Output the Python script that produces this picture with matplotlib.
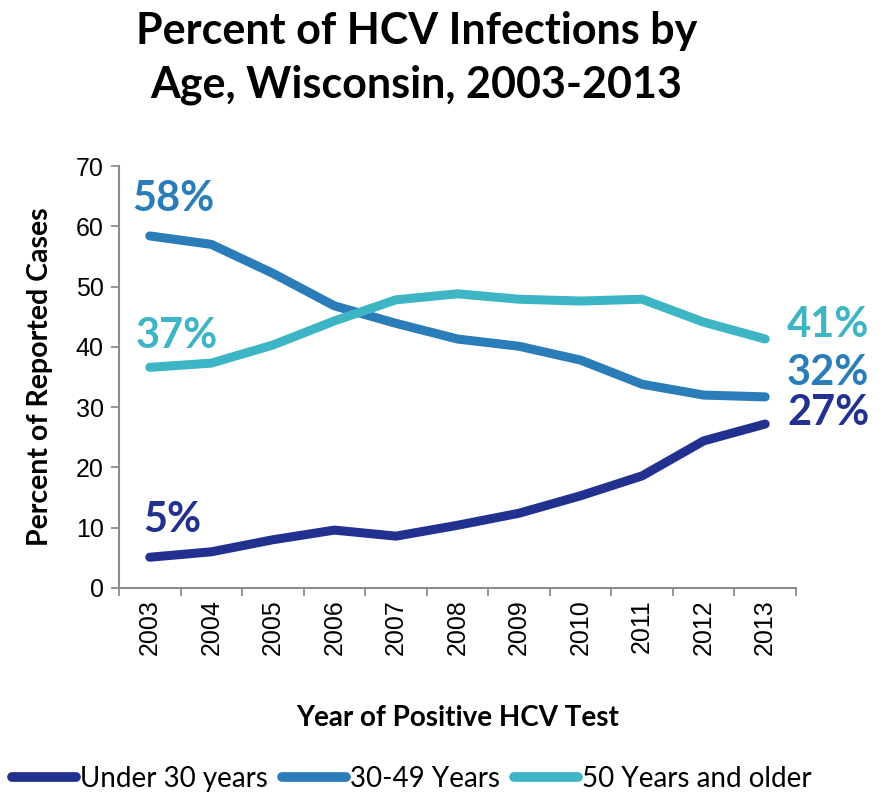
import matplotlib
matplotlib.use("Agg")
import matplotlib.pyplot as plt
from matplotlib.lines import Line2D

years = ["2003", "2004", "2005", "2006", "2007", "2008", "2009", "2010", "2011", "2012", "2013"]
under_30 = [5.1, 6.0, 8.0, 9.6, 8.6, 10.4, 12.4, 15.3, 18.6, 24.4, 27.2]
age_30_49 = [58.4, 57.0, 52.2, 46.8, 43.9, 41.3, 40.1, 37.8, 33.8, 32.0, 31.7]
over_50 = [36.6, 37.3, 40.3, 44.3, 47.8, 48.8, 47.9, 47.6, 47.9, 44.1, 41.3]
series_names = ["Under 30 years", "30-49 Years", "50 Years and older"]
colors = ["#22318F", "#2A7DB8", "#3DB5C4"]

label_font = "Lato"
tick_font = "Liberation Sans"

fig = plt.figure(figsize=(8.86, 7.92), dpi=100)
ax = fig.add_axes([0.1343, 0.2576, 0.7641, 0.5328])

x = list(range(len(years)))
all_series = [under_30, age_30_49, over_50]
for vals, c in zip(all_series, colors):
    ax.plot(x, vals, color=c, lw=6.5, solid_capstyle="round", solid_joinstyle="round")

ax.set_xlim(-0.5, len(years) - 0.5)
ax.set_ylim(0, 70)
ax.set_yticks(range(0, 71, 10))
ax.set_xticks([i - 0.5 for i in range(len(years) + 1)])
ax.set_xticklabels([])
ax.set_xticks(x, minor=True)
ax.set_xticklabels(years, minor=True, rotation=90, fontsize=18, family=tick_font)
ax.tick_params(axis="x", which="minor", length=0, pad=8)
ax.tick_params(axis="x", which="major", length=6, width=1.3, color="#8c8c8c", direction="out")
ax.tick_params(axis="y", length=6, width=1.3, color="#8c8c8c", direction="out", labelsize=18, pad=5)
for lbl in ax.get_yticklabels():
    lbl.set_family(tick_font)

for s in ["top", "right"]:
    ax.spines[s].set_visible(False)
for s in ["left", "bottom"]:
    ax.spines[s].set_color("#8c8c8c")
    ax.spines[s].set_linewidth(1.5)

ax.set_ylabel("Percent of Reported Cases", fontsize=20.5, fontweight="bold", family=label_font, labelpad=16)
ax.set_xlabel("Year of Positive HCV Test", fontsize=20, fontweight="bold", family=label_font, labelpad=36)

fig.text(0.47, 0.927, "Percent of HCV Infections by\nAge, Wisconsin, 2003-2013", ha="center", va="center",
         fontsize=31, fontweight="bold", family=label_font, linespacing=1.4)

# value callouts at the first and last year
start_offsets = [(16, 26.6), (17, 26.6), (19.4, 22.3)]
for vals, c, off in zip(all_series, colors, start_offsets):
    ax.annotate(f"{round(vals[0])}%", xy=(x[0], vals[0]), xytext=off, textcoords="offset points",
                ha="center", va="center", fontsize=30, fontweight="bold", color=c, family=label_font)
end_offsets = [(15.8, 8), (15.8, 17.3), (15.8, 10)]
for vals, c, off in zip(all_series, colors, end_offsets):
    ax.annotate(f"{round(vals[-1])}%", xy=(x[-1], vals[-1]), xytext=off, textcoords="offset points",
                ha="left", va="center", fontsize=30, fontweight="bold", color=c, family=label_font,
                annotation_clip=False)

handles = [Line2D([0], [0], color=c, lw=7, solid_capstyle="round") for c in colors]
leg = fig.legend(handles, series_names, loc="center", bbox_to_anchor=(0.465, 0.017), ncol=3,
                 frameon=False, handlelength=2.3, handletextpad=0.15, columnspacing=0.5,
                 prop={"family": label_font, "size": 20})

fig.savefig("out.png", dpi=100)
